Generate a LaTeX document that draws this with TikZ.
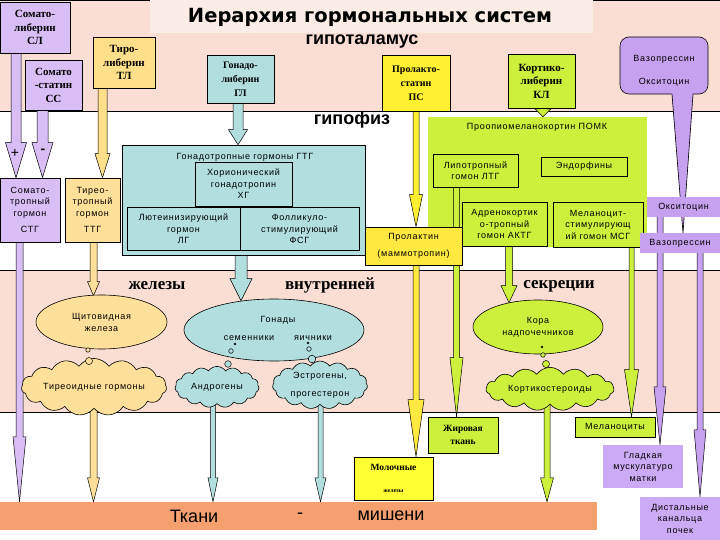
\documentclass[tikz,border=0pt]{standalone}
\usepackage{fontspec}
\setmainfont{Liberation Serif}
\setsansfont{Liberation Sans}
\newfontfamily\titlefont{DejaVu Sans}
\newfontfamily\bsans{Liberation Sans}[LetterSpace=8]
\usetikzlibrary{shapes.geometric,shapes.symbols,calc}
\pgfdeclarelayer{bg}\pgfdeclarelayer{arr}\pgfsetlayers{bg,arr,main}
\definecolor{pinkbg}{RGB}{250,222,212}
\definecolor{titlebg}{RGB}{252,236,230}
\definecolor{lavL}{RGB}{216,190,245}
\definecolor{lavD}{RGB}{200,160,240}
\definecolor{lavG}{RGB}{205,170,245}
\definecolor{orT}{RGB}{255,223,138}
\definecolor{orL}{RGB}{255,224,154}
\definecolor{tealL}{RGB}{178,222,222}
\definecolor{yelP}{RGB}{255,240,50}
\definecolor{yelPr}{RGB}{255,232,64}
\definecolor{molY}{RGB}{255,255,51}
\definecolor{limeC}{RGB}{204,240,60}
\definecolor{salmon}{RGB}{245,160,110}
\newcommand\blockarr[7]{%
  \filldraw[fill=#1,draw=black,line width=0.5pt,line join=miter]
  let \p1=(#3), \p2=(#4) in
  (#2pt-#5pt,\y1) -- (#2pt-#5pt,\y2+#7pt) -- (#2pt-#6pt,\y2+#7pt) -- (#2pt,\y2)
  -- (#2pt+#6pt,\y2+#7pt) -- (#2pt+#5pt,\y2+#7pt) -- (#2pt+#5pt,\y1);}
\begin{document}
\begin{tikzpicture}[x=1pt,y=-1pt,
  hbox/.style={draw=black,line width=0.6pt,align=center,inner sep=0pt,
    font=\fontsize{11}{13.5}\selectfont\bfseries},
  sbox/.style={draw=black,line width=0.6pt,align=center,inner sep=0pt,
    font=\bsans\fontsize{9}{11.5}\selectfont},
  nbox/.style={align=center,inner sep=0pt,font=\bsans\fontsize{9}{11.5}\selectfont},
  stxt/.style={align=center,inner sep=0pt,font=\bsans\fontsize{9}{11.5}\selectfont},
  ell/.style={ellipse,draw=black,line width=0.6pt,align=center,inner sep=0pt,
    font=\bsans\fontsize{9}{12}\selectfont},
  cld/.style={cloud,cloud puffs=15,cloud puff arc=110,cloud ignores aspect,draw=black,line width=0.6pt,
    align=center,inner xsep=0pt,font=\bsans\fontsize{9}{12}\selectfont},
  band/.style={font=\bfseries\fontsize{17}{20}\selectfont,inner sep=0pt},
  big/.style={font=\sffamily\bfseries\fontsize{18}{20}\selectfont,inner sep=0pt},
  tm/.style={font=\sffamily\fontsize{18}{20}\selectfont,inner sep=0pt},
  bub/.style={draw=black,line width=0.5pt}]
\useasboundingbox (0,0) rectangle (720,540);
% ---------- background ----------
\begin{pgfonlayer}{bg}
\fill[white] (0,0) rectangle (720,540);
\fill[pinkbg] (0,0) rectangle (720,111);
\fill[titlebg] (150,0) rectangle (593,33);
\fill[pinkbg] (0,270) rectangle (720,412);
\draw[line width=0.8pt] (0,111) -- (720,111);
\draw[line width=0.8pt] (0,270) -- (720,270);
\draw[line width=0.8pt] (0,412) -- (720,412);
\draw[line width=1pt] (0,0.5) -- (150,0.5);
\draw[line width=1pt] (593,0.5) -- (720,0.5);
\node[fill=limeC,minimum width=219,minimum height=130,inner sep=0pt] (POMK) at (537.5,182) {};
\end{pgfonlayer}
% ---------- titles ----------
\node[font=\titlefont\bfseries\fontsize{19.5}{24}\selectfont,inner sep=0pt] (title) at (370,17) {Иерархия гормональных систем};
\node[big] (hyp) at (362,42) {гипоталамус};
\node[big] (hypo) at (352,120) {гипофиз};
% ---------- hypothalamus ----------
\node[hbox,fill=lavL,minimum width=70,minimum height=51] (SL) at (35,27.5) {Сомато-\\либерин\\СЛ};
\node[hbox,fill=lavL,minimum width=57,minimum height=50] (SS) at (53.5,85) {Сомато\\-статин\\СС};
\node[hbox,fill=orT,minimum width=62,minimum height=51] (TL) at (124,62.5) {Тиро-\\либерин\\ТЛ};
\node[hbox,fill=tealL,minimum width=67,minimum height=48,font=\fontsize{10}{14}\selectfont\bfseries] (GL) at (240.5,79) {Гонадо-\\либерин\\ГЛ};
\node[hbox,fill=yelP,minimum width=68,minimum height=56,font=\fontsize{10}{14}\selectfont\bfseries] (PS) at (416,83) {Пролакто-\\статин\\ПС};
\node[hbox,fill=limeC,minimum width=67,minimum height=54] (KL) at (541.5,81) {Кортико-\\либерин\\КЛ};
\begin{pgfonlayer}{arr}
\node[draw=black,line width=0.6pt,fill=lavD,rounded corners=9pt,minimum width=88,minimum height=57] (VO) at (664,65.5) {};
\fill[lavD] (671.5,92.5) -- (683,233) -- (693.5,92.5) -- cycle;
\draw[line width=0.6pt] (672,94) -- (683,233) -- (693,94);
\end{pgfonlayer}
\node[stxt,font=\bsans\fontsize{9}{23}\selectfont] (VOt) at (VO.center) [yshift=-5pt] {Вазопрессин\\Окситоцин};
% ---------- pituitary ----------
\node[font=\sffamily\fontsize{14}{14}\selectfont,inner sep=0pt] (plus) at (15,153) {+};
\node[font=\sffamily\bfseries\fontsize{14}{14}\selectfont,inner sep=0pt] (minus) at (43,151) {-};
\node[sbox,fill=lavL,minimum width=60,minimum height=64] (STG) at (30,210) {Сомато-\\тропный\\гормон\\[5pt]СТГ};
\node[sbox,fill=orL,minimum width=55,minimum height=64] (TTG) at (92.5,210) {Тирео-\\тропный\\гормон\\[5pt]ТТГ};
\node[sbox,fill=tealL,minimum width=243,minimum height=110] (GTG) at (243.5,200) {};
\node[stxt] (GTGt) at (245,157) {Гонадотропные гормоны ГТГ};
\node[sbox,fill=tealL,minimum width=97,minimum height=44] (HG) at (243.5,184) {Хорионический\\гонадотропин\\ХГ};
\node[sbox,fill=tealL,minimum width=113,minimum height=43] (LG) at (183.5,229) {Лютеинизирующий\\гормон\\ЛГ};
\node[sbox,fill=tealL,minimum width=119,minimum height=43] (FSG) at (299.5,229) {Фолликуло-\\стимулирующий\\ФСГ};
\node[stxt] (POMKt) at (537,127) {Проопиомеланокортин ПОМК};
\node[sbox,fill=limeC,minimum width=85,minimum height=33] (LTG) at (475.5,170.5) {Липотропный\\гомон ЛТГ};
\node[sbox,fill=limeC,minimum width=86,minimum height=19] (END) at (584,166.5) {Эндорфины};
\node[sbox,fill=limeC,minimum width=85,minimum height=44] (AKTG) at (504.5,224) {Адренокортик\\о-тропный\\гомон АКТГ};
\node[sbox,fill=limeC,minimum width=90,minimum height=45] (MSG) at (598,224.5) {Меланоцит-\\стимулирующ\\ий гомон МСГ};
\node[sbox,fill=yelPr,minimum width=97,minimum height=38] (PROL) at (413.5,246) {Пролактин\\[6pt](маммотропин)};
\node[nbox,fill=lavD,minimum width=73,minimum height=20] (OXY) at (683.5,207) {Окситоцин};
\node[nbox,fill=lavD,minimum width=80,minimum height=20] (VAS) at (680,243) {Вазопрессин};
% ---------- glands ----------
\node[band] (b1) at (157,286) {железы};
\node[band] (b2) at (330,285) {внутренней};
\node[band] (b3) at (559,286) {секреции};
\node[ell,fill=orL,minimum width=131,minimum height=54] (SHCH) at (101.5,322) {Щитовидная\\железа};
\node[ell,fill=tealL,minimum width=180,minimum height=62] (GON) at (274,330) {};
\node[stxt] (GONt) at (278,320) {Гонады};
\node[stxt] (SEM) at (249,338) {семенники};
\node[stxt] (YAI) at (313,338) {яичники};
\node[ell,fill=limeC,minimum width=130,minimum height=54] (KORA) at (538,327) {Кора\\надпочечников};
\node[cld,fill=orL,minimum width=132,inner ysep=11pt] (TG) at (94,387) {Тиреоидные гормоны};
\node[cld,fill=tealL,minimum width=84,inner ysep=8pt] (ANDR) at (217,387) {Андрогены};
\node[cld,fill=tealL,minimum width=95,inner ysep=1pt,font=\bsans\fontsize{9}{18}\selectfont] (ESTR) at (320,385) {Эстрогены,\\прогестерон};
\node[cld,fill=limeC,minimum width=128,inner ysep=7pt] (KORT) at (550,389) {Кортикостероиды};
% thought bubbles
\draw[bub,fill=orL] (88,350) circle (2.2);
\draw[bub,fill=orL] (89,361) circle (3.5);
\draw[bub,fill=tealL] (235,344) circle (1);
\draw[bub,fill=tealL] (231,351) circle (2.3);
\draw[bub,fill=tealL] (228,364) circle (3.3);
\draw[bub,fill=tealL] (308,343) circle (1);
\draw[bub,fill=tealL] (309,349) circle (2.3);
\draw[bub,fill=tealL] (312,359) circle (3.8);
\draw[bub,fill=limeC] (542,347) circle (1);
\draw[bub,fill=limeC] (543,355) circle (2.3);
\draw[bub,fill=limeC] (546,364) circle (3.5);
% ---------- targets ----------
\node[hbox,fill=limeC,minimum width=70,minimum height=36,font=\fontsize{9.5}{13}\selectfont\bfseries] (ZHIR) at (463,435) {Жировая\\ткань};
\node[hbox,fill=molY,minimum width=79,minimum height=43,font=\fontsize{9.5}{12}\selectfont\bfseries] (MOL) at (393.5,478.5) {Молочные\\[10pt]{\fontsize{6}{7}\selectfont железы}};
\node[sbox,fill=limeC,minimum width=80,minimum height=20] (MEL) at (615,427) {Меланоциты};
\node[nbox,fill=lavG,minimum width=80,minimum height=43] (GLAD) at (643,466.5) {Гладкая\\мускулатуро\\матки};
\node[nbox,fill=lavG,minimum width=80,minimum height=43] (DIST) at (680,518.5) {Дистальные\\канальца\\почек};
\node[fill=salmon,minimum width=597,minimum height=28,inner sep=0pt] (TM) at (298.5,516) {};
\node[tm] (TMa) at (194,516) {Ткани};
\node[tm] (TMb) at (300,516) {-};
\node[tm] (TMc) at (391,516) {мишени};
% ---------- arrows ----------
\begin{pgfonlayer}{arr}
\blockarr{lavL}{16}{SL.south}{STG.north}{5}{10.5}{35}
\blockarr{lavL}{42.5}{SS.south}{STG.north}{5.5}{10.5}{35}
\blockarr{orT}{102.5}{TL.south}{TTG.north}{4.5}{7.5}{24}
\blockarr{tealL}{238}{GL.south}{GTG.north}{5}{9.5}{15}
\blockarr{limeC}{543}{KL.south}{POMK.north}{3.5}{8}{8}
\blockarr{yelP}{416}{PS.south}{PROL.north}{3}{6.5}{32}
\blockarr{lavL}{19.5}{STG.south}{TM.north}{3.5}{6.5}{65}
\blockarr{orL}{93.5}{TTG.south}{[yshift=-1pt]SHCH.north}{3.5}{6}{14}
\blockarr{tealL}{241}{GTG.south}{[yshift=-2pt]GON.north}{6}{11}{22}
\blockarr{limeC}{509}{AKTG.south}{[yshift=-3pt]KORA.north}{3.5}{8}{17}
\blockarr{limeC}{456.5}{LTG.south}{ZHIR.north}{3}{6.5}{59}
\blockarr{limeC}{631.5}{MSG.south}{MEL.north}{2.5}{7}{47}
\blockarr{yelPr}{416}{PROL.south}{MOL.north}{3}{8}{57}
\blockarr{lavD}{660}{OXY.south}{GLAD.north}{3}{6}{58}
\blockarr{lavD}{700}{VAS.south}{DIST.north}{3}{6}{67}
\blockarr{orL}{93.5}{TG.south}{TM.north}{3.5}{6}{24}
\blockarr{tealL}{213}{ANDR.south}{TM.north}{2.5}{5}{24}
\blockarr{tealL}{320.5}{ESTR.south}{TM.north}{2.5}{5.5}{24}
\blockarr{limeC}{547}{KORT.south}{TM.north}{3}{6.5}{24}
\end{pgfonlayer}
\end{tikzpicture}
\end{document}
